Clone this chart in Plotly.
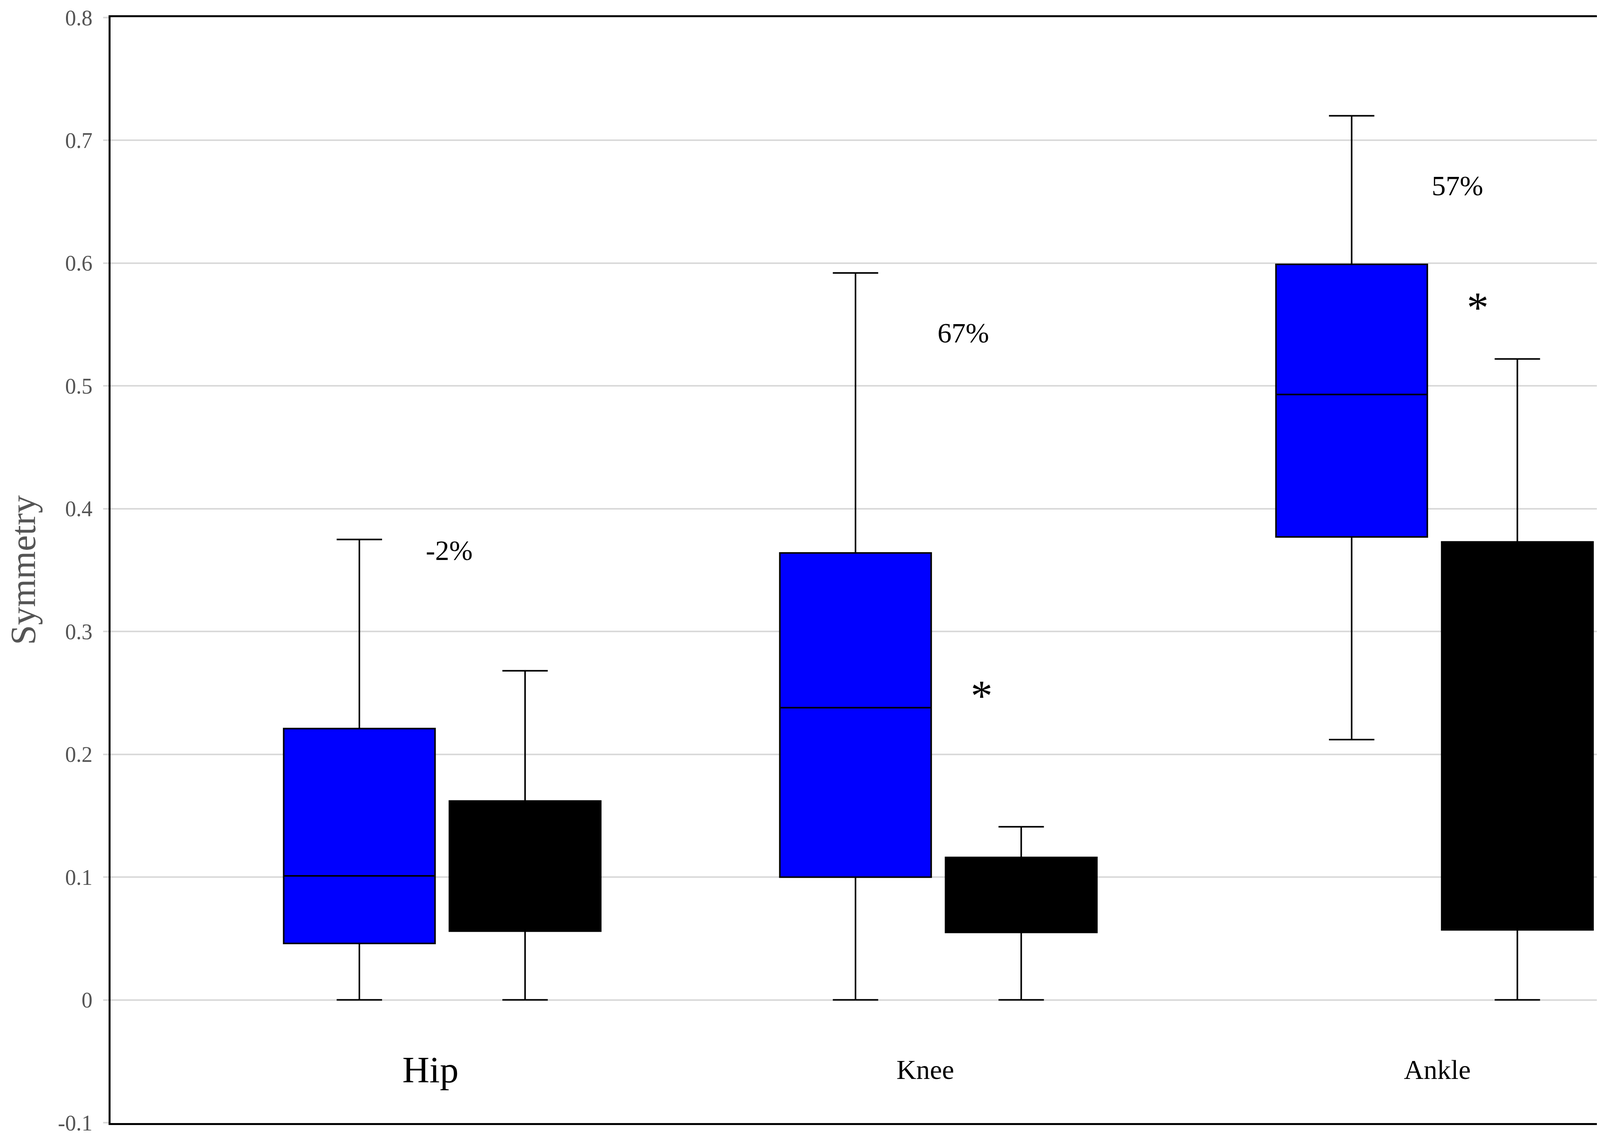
import plotly.graph_objects as go

# joints along the x axis
categories = ["Hip", "Knee", "Ankle"]

# blue group (box summary values)
blue_lower = [0.0, 0.0, 0.212]
blue_q1 = [0.046, 0.100, 0.377]
blue_median = [0.101, 0.238, 0.493]
blue_q3 = [0.221, 0.364, 0.599]
blue_upper = [0.375, 0.592, 0.720]

# black group (median hidden by the black fill)
black_lower = [0.0, 0.0, 0.0]
black_q1 = [0.056, 0.055, 0.057]
black_median = [0.110, 0.080, 0.200]
black_q3 = [0.162, 0.116, 0.373]
black_upper = [0.268, 0.141, 0.522]

# change labels and significance marks
pct_labels = ["-2%", "67%", "57%"]
pct_y = [0.366, 0.543, 0.663]
star_joints = ["Knee", "Ankle"]
star_y = [0.250, 0.566]

y_ticks = [-0.1, 0, 0.1, 0.2, 0.3, 0.4, 0.5, 0.6, 0.7, 0.8]
y_ticktext = ["-0.1", "0", "0.1", "0.2", "0.3", "0.4", "0.5", "0.6", "0.7", "0.8"]

SERIF = "Liberation Serif, Times New Roman, serif"
OFFSET = 0.167   # half distance between paired boxes
BOX_W = 0.305

idx = list(range(len(categories)))

fig = go.Figure()
fig.add_trace(go.Box(
    x=[i - OFFSET for i in idx],
    lowerfence=blue_lower, q1=blue_q1, median=blue_median,
    q3=blue_q3, upperfence=blue_upper,
    width=BOX_W, whiskerwidth=0.3, boxpoints=False,
    fillcolor="#0000ff", line=dict(color="black", width=4),
    name="blue", hoverinfo="skip",
))
fig.add_trace(go.Box(
    x=[i + OFFSET for i in idx],
    lowerfence=black_lower, q1=black_q1, median=black_median,
    q3=black_q3, upperfence=black_upper,
    width=BOX_W, whiskerwidth=0.3, boxpoints=False,
    fillcolor="black", line=dict(color="black", width=4),
    name="black", hoverinfo="skip",
))

annotations = []
# joint names sit inside the frame, below zero
label_sizes = [96, 70, 70]
label_dx = [-0.024, -0.026, 0.006]
for i, name in enumerate(categories):
    annotations.append(dict(
        x=i + label_dx[i], y=-0.057, text=name, showarrow=False,
        font=dict(family=SERIF, size=label_sizes[i], color="black"),
        xanchor="center", yanchor="middle",
    ))
pct_dx = [0.014, 0.050, 0.046]
for i, txt in enumerate(pct_labels):
    annotations.append(dict(
        x=i + pct_dx[i], y=pct_y[i], text=txt, showarrow=False,
        font=dict(family=SERIF, size=72, color="black"),
        xanchor="center", yanchor="middle",
    ))
for j, y in zip(star_joints, star_y):
    i = categories.index(j)
    annotations.append(dict(
        x=i + 0.087, y=y - 0.002, text="*", showarrow=False,
        font=dict(family=SERIF, size=112, color="black"),
        xanchor="center", yanchor="middle",
    ))

fig.update_layout(
    width=4550, height=2904,
    margin=dict(l=275, r=15, t=36, b=36),
    paper_bgcolor="white", plot_bgcolor="white",
    showlegend=False, boxmode="overlay",
    annotations=annotations,
)
fig.update_xaxes(
    range=[-0.6685, 2.6855], showticklabels=False, showgrid=False,
    zeroline=False, showline=True, linecolor="black", linewidth=5, mirror=True,
    ticks="", automargin=False,
)
fig.update_yaxes(
    range=[-0.1003, 0.8003], tickvals=y_ticks, ticktext=y_ticktext,
    ticklabeloverflow="allow", automargin=False, ticklabelstandoff=16,
    showgrid=True, gridcolor="#d9d9d9", gridwidth=4, zeroline=False,
    showline=True, linecolor="black", linewidth=5, mirror=True,
    ticks="outside", ticklen=14, tickcolor="#d9d9d9", tickwidth=4,
    tickfont=dict(family=SERIF, size=56, color="#555555"),
    title=dict(text="Symmetry", font=dict(family=SERIF, size=92, color="#555555"), standoff=32),
)

fig.write_html("out.html")
